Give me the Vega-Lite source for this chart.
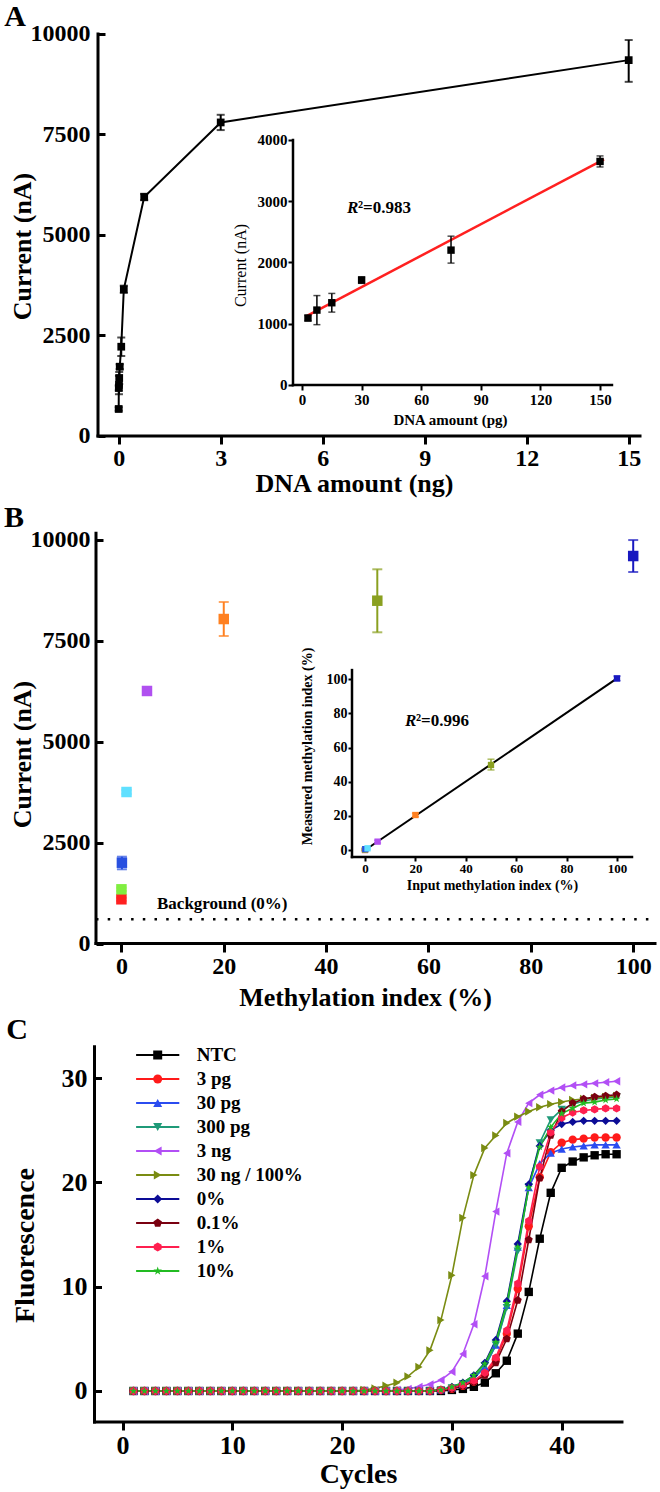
{
"$schema": "https://vega.github.io/schema/vega-lite/v6.json",
"width": 660, "height": 1492,
"autosize": {"type": "fit", "contains": "padding"},
"padding": 0,
"background": "white",
"config": {
  "view": {"stroke": null},
  "font": "Liberation Serif",
  "axis": {"domain": false, "grid": false, "format": "d", "labelFont": "Liberation Serif", "labelFontWeight": "bold", "labelColor": "black", "titleFont": "Liberation Serif", "titleFontWeight": "bold", "titleColor": "black", "tickColor": "black", "labelFlush": false, "labelOverlap": false},
  "legend": {"labelFont": "Liberation Serif", "labelFontWeight": "bold", "labelFontSize": 19, "labelColor": "black"}
},
"datasets": {
  "a": [
    {"x": 0, "y": 672, "lo": 630, "hi": 714},
    {"x": 0.003, "y": 1194, "lo": 1134, "hi": 1254},
    {"x": 0.0075, "y": 1269, "lo": 1039, "hi": 1499},
    {"x": 0.015, "y": 1443, "lo": 1293, "hi": 1593},
    {"x": 0.03, "y": 1724, "lo": 1664, "hi": 1784},
    {"x": 0.075, "y": 2221, "lo": 1990, "hi": 2450},
    {"x": 0.15, "y": 3650, "lo": 3560, "hi": 3740},
    {"x": 0.75, "y": 5945, "lo": 5865, "hi": 6025},
    {"x": 3, "y": 7800, "lo": 7610, "hi": 7990},
    {"x": 15, "y": 9350, "lo": 8810, "hi": 9850}
  ],
  "ai": [
    {"x": 3, "y": 1093, "lo": 1050, "hi": 1136},
    {"x": 7.5, "y": 1223, "lo": 985, "hi": 1460},
    {"x": 15, "y": 1343, "lo": 1190, "hi": 1495},
    {"x": 30, "y": 1713, "lo": 1660, "hi": 1766},
    {"x": 75, "y": 2202, "lo": 1990, "hi": 2430},
    {"x": 150, "y": 3650, "lo": 3560, "hi": 3740}
  ],
  "aifit": [{"x": 2, "y": 1120}, {"x": 152, "y": 3685}],
  "b": [
    {"m": "0%", "x": 0, "y": 1098, "lo": 1060, "hi": 1136},
    {"m": "0.01%", "x": 0.01, "y": 1345, "lo": 1305, "hi": 1385},
    {"m": "0.1%", "x": 0.1, "y": 2004, "lo": 1841, "hi": 2153},
    {"m": "1%", "x": 1, "y": 3756, "lo": 3706, "hi": 3806},
    {"m": "5%", "x": 5, "y": 6259, "lo": 6199, "hi": 6319},
    {"m": "20%", "x": 20, "y": 8042, "lo": 7622, "hi": 8464},
    {"m": "50%", "x": 50, "y": 8496, "lo": 7713, "hi": 9274},
    {"m": "100%", "x": 100, "y": 9603, "lo": 9207, "hi": 9999}
  ],
  "bi": [
    {"m": "0%", "x": 0, "y": 0, "lo": -0.5, "hi": 0.5},
    {"m": "0.01%", "x": 0.01, "y": 0.3, "lo": -0.2, "hi": 0.8},
    {"m": "0.1%", "x": 0.1, "y": 0.5, "lo": 0, "hi": 1},
    {"m": "1%", "x": 1, "y": 1.0, "lo": 0.5, "hi": 1.5},
    {"m": "5%", "x": 5, "y": 4.9, "lo": 4.1, "hi": 5.7},
    {"m": "20%", "x": 20, "y": 20.5, "lo": 19.5, "hi": 21.5},
    {"m": "50%", "x": 50, "y": 49.8, "lo": 46.9, "hi": 53.2},
    {"m": "100%", "x": 100, "y": 100.5, "lo": 99.2, "hi": 101.9}
  ],
  "bifit": [{"x": -0.5, "y": -0.6}, {"x": 100, "y": 100.5}],
  "c": [
    {"s": "NTC", "c": [1,2,3,4,5,6,7,8,9,10,11,12,13,14,15,16,17,18,19,20,21,22,23,24,25,26,27,28,29,30,31,32,33,34,35,36,37,38,39,40,41,42,43,44,45], "f": [0,0,0,0,0,0,0,0,0,0,0,0,0,0,0,0,0,0,0,0,0,0,0,0,0,0,0,0,0,0.1,0.2,0.4,0.8,1.7,2.9,5.5,9.5,14.6,19.0,21.4,22.0,22.4,22.6,22.7,22.7]},
    {"s": "3 pg", "c": [1,2,3,4,5,6,7,8,9,10,11,12,13,14,15,16,17,18,19,20,21,22,23,24,25,26,27,28,29,30,31,32,33,34,35,36,37,38,39,40,41,42,43,44,45], "f": [0,0,0,0,0,0,0,0,0,0,0,0,0,0,0,0,0,0,0,0,0,0,0,0,0,0,0,0,0.1,0.2,0.5,0.9,1.6,3.0,5.5,9.8,15.8,20.5,22.9,23.8,24.1,24.2,24.3,24.3,24.3]},
    {"s": "30 pg", "c": [1,2,3,4,5,6,7,8,9,10,11,12,13,14,15,16,17,18,19,20,21,22,23,24,25,26,27,28,29,30,31,32,33,34,35,36,37,38,39,40,41,42,43,44,45], "f": [0,0,0,0,0,0,0,0,0,0,0,0,0,0,0,0,0,0,0,0,0,0,0,0,0,0,0,0,0.1,0.3,0.6,1.2,2.3,4.4,8.2,13.8,19.5,21.8,22.8,23.2,23.4,23.5,23.6,23.6,23.6]},
    {"s": "300 pg", "c": [1,2,3,4,5,6,7,8,9,10,11,12,13,14,15,16,17,18,19,20,21,22,23,24,25,26,27,28,29,30,31,32,33,34,35,36,37,38,39,40,41,42,43,44,45], "f": [0,0,0,0,0,0,0,0,0,0,0,0,0,0,0,0,0,0,0,0,0,0,0,0,0,0,0,0,0.1,0.3,0.7,1.3,2.4,4.4,8.0,13.4,19.6,23.8,26.0,27.0,27.5,27.8,28.0,28.1,28.2]},
    {"s": "3 ng", "c": [1,2,3,4,5,6,7,8,9,10,11,12,13,14,15,16,17,18,19,20,21,22,23,24,25,26,27,28,29,30,31,32,33,34,35,36,37,38,39,40,41,42,43,44,45], "f": [0,0,0,0,0,0,0,0,0,0,0,0,0,0,0,0,0,0,0,0,0,0,0,0,0.1,0.2,0.4,0.64,1.05,1.85,3.55,6.4,11.0,17.2,22.8,25.8,27.6,28.4,28.8,29.1,29.3,29.4,29.5,29.6,29.7]},
    {"s": "30 ng / 100%", "c": [1,2,3,4,5,6,7,8,9,10,11,12,13,14,15,16,17,18,19,20,21,22,23,24,25,26,27,28,29,30,31,32,33,34,35,36,37,38,39,40,41,42,43,44,45], "f": [0,0,0,0,0,0,0,0,0,0,0,0,0,0,0,0,0,0,0,0,0,0.1,0.25,0.5,0.8,1.4,2.3,3.9,6.8,11.1,16.6,20.7,23.3,24.5,25.7,26.3,26.8,27.2,27.5,27.7,27.9,28.0,28.1,28.2,28.3]},
    {"s": "0%", "c": [1,2,3,4,5,6,7,8,9,10,11,12,13,14,15,16,17,18,19,20,21,22,23,24,25,26,27,28,29,30,31,32,33,34,35,36,37,38,39,40,41,42,43,44,45], "f": [0,0,0,0,0,0,0,0,0,0,0,0,0,0,0,0,0,0,0,0,0,0,0,0,0,0,0,0,0.1,0.4,0.8,1.5,2.7,4.9,8.6,14.1,19.8,23.5,25.0,25.6,25.8,25.9,25.9,25.9,25.9]},
    {"s": "0.1%", "c": [1,2,3,4,5,6,7,8,9,10,11,12,13,14,15,16,17,18,19,20,21,22,23,24,25,26,27,28,29,30,31,32,33,34,35,36,37,38,39,40,41,42,43,44,45], "f": [0,0,0,0,0,0,0,0,0,0,0,0,0,0,0,0,0,0,0,0,0,0,0,0,0,0,0,0,0.1,0.2,0.5,0.9,1.5,2.7,5.0,8.7,14.5,20.4,24.5,26.8,27.6,28.0,28.2,28.3,28.4]},
    {"s": "1%", "c": [1,2,3,4,5,6,7,8,9,10,11,12,13,14,15,16,17,18,19,20,21,22,23,24,25,26,27,28,29,30,31,32,33,34,35,36,37,38,39,40,41,42,43,44,45], "f": [0,0,0,0,0,0,0,0,0,0,0,0,0,0,0,0,0,0,0,0,0,0,0,0,0,0,0,0,0.1,0.3,0.6,1.0,1.75,3.2,5.8,10.3,16.3,21.5,24.8,26.2,26.7,26.9,27.0,27.1,27.1]},
    {"s": "10%", "c": [1,2,3,4,5,6,7,8,9,10,11,12,13,14,15,16,17,18,19,20,21,22,23,24,25,26,27,28,29,30,31,32,33,34,35,36,37,38,39,40,41,42,43,44,45], "f": [0,0,0,0,0,0,0,0,0,0,0,0,0,0,0,0,0,0,0,0,0,0,0,0,0,0,0,0,0.1,0.4,0.8,1.5,2.6,4.7,8.4,13.8,19.5,23.4,25.3,26.6,27.1,27.6,27.7,27.9,28.0]}
  ]
},
"layer": [
  {"data": {"name": "a"}, "mark": {"type": "line", "color": "black", "strokeWidth": 2},
   "encoding": {
     "x": {"field": "x", "type": "quantitative", "scale": {"domain": [-3.49118, 15.92059], "nice": false, "zero": false},
           "axis": {"orient": "bottom", "offset": -1056, "values": [0, 3, 6, 9, 12, 15], "tickSize": 8, "tickWidth": 3, "labelFontSize": 24, "labelPadding": 2, "title": "DNA amount (ng)", "titleFontSize": 26, "titleX": 354, "titleY": 47, "titleBaseline": "middle", "titleAlign": "center"}},
     "y": {"field": "y", "type": "quantitative", "scale": {"domain": [-26268.66, 10845.77], "nice": false, "zero": false},
           "axis": {"orient": "left", "offset": -98, "values": [0, 2500, 5000, 7500, 10000], "tickSize": -7, "tickWidth": 3, "labelFontSize": 24, "labelPadding": 15, "title": "Current (nA)", "titleFontSize": 26, "titleX": -76, "titleY": 246, "titleAngle": 270, "titleBaseline": "middle", "titleAlign": "center"}}}},
  {"data": {"name": "a"}, "mark": {"type": "errorbar", "color": "black", "size": 8, "thickness": 2, "ticks": true},
   "encoding": {
     "x": {"field": "x", "type": "quantitative", "scale": {"domain": [-3.49118, 15.92059], "nice": false, "zero": false}, "axis": null},
     "y": {"field": "lo", "type": "quantitative", "scale": {"domain": [-26268.66, 10845.77], "nice": false, "zero": false}, "axis": null},
     "y2": {"field": "hi"}}},
  {"data": {"name": "a"}, "mark": {"type": "point", "shape": "square", "filled": true, "color": "black", "size": 60, "opacity": 1},
   "encoding": {
     "x": {"field": "x", "type": "quantitative", "scale": {"domain": [-3.49118, 15.92059], "nice": false, "zero": false}, "axis": null},
     "y": {"field": "y", "type": "quantitative", "scale": {"domain": [-26268.66, 10845.77], "nice": false, "zero": false}, "axis": null}}},
  {"data": {"values": [{}]}, "mark": {"type": "rule", "color": "black", "strokeWidth": 3, "strokeCap": "square"},
   "encoding": {
     "x": {"datum": -0.6088, "type": "quantitative", "scale": {"domain": [-3.49118, 15.92059], "nice": false, "zero": false}, "axis": null},
     "y": {"datum": 0, "type": "quantitative", "scale": {"domain": [-26268.66, 10845.77], "nice": false, "zero": false}, "axis": null},
     "y2": {"datum": 10000}}},
  {"data": {"values": [{}]}, "mark": {"type": "rule", "color": "black", "strokeWidth": 3, "strokeCap": "square"},
   "encoding": {
     "x": {"datum": -0.6088, "type": "quantitative", "scale": {"domain": [-3.49118, 15.92059], "nice": false, "zero": false}, "axis": null},
     "x2": {"datum": 15.3324},
     "y": {"datum": 0, "type": "quantitative", "scale": {"domain": [-26268.66, 10845.77], "nice": false, "zero": false}, "axis": null}}},
  {"data": {"values": [{"t": "A"}]}, "mark": {"type": "text", "font": "Liberation Serif", "fontWeight": "bold", "fontSize": 30, "align": "center", "baseline": "middle", "color": "black"},
   "encoding": {
     "x": {"datum": -3.05, "type": "quantitative", "scale": {"domain": [-3.49118, 15.92059], "nice": false, "zero": false}, "axis": null},
     "y": {"datum": 10423, "type": "quantitative", "scale": {"domain": [-26268.66, 10845.77], "nice": false, "zero": false}, "axis": null},
     "text": {"field": "t"}}},

  {"data": {"name": "aifit"}, "mark": {"type": "line", "color": "#ff2020", "strokeWidth": 2.5},
   "encoding": {
     "x": {"field": "x", "type": "quantitative", "scale": {"domain": [-151.988, 180.171], "nice": false, "zero": false},
           "axis": {"orient": "bottom", "offset": -1107, "values": [0, 30, 60, 90, 120, 150], "tickSize": 5, "tickWidth": 2, "labelFontSize": 15, "labelPadding": 2, "title": "DNA amount (pg)", "titleFontSize": 15, "titleX": 450, "titleY": 34, "titleBaseline": "middle", "titleAlign": "center"}},
     "y": {"field": "y", "type": "quantitative", "scale": {"domain": [-18073.47, 6285.71], "nice": false, "zero": false},
           "axis": {"orient": "left", "offset": -293, "values": [0, 1000, 2000, 3000, 4000], "tickSize": 5, "tickWidth": 2, "labelFontSize": 15, "labelPadding": 1, "title": "Current (nA)", "titleFontSize": 16, "titleFontWeight": "normal", "titleX": -53, "titleY": 265, "titleAngle": 270, "titleBaseline": "middle", "titleAlign": "center"}}}},
  {"data": {"name": "ai"}, "mark": {"type": "errorbar", "color": "black", "size": 7, "thickness": 1.5, "ticks": true},
   "encoding": {
     "x": {"field": "x", "type": "quantitative", "scale": {"domain": [-151.988, 180.171], "nice": false, "zero": false}, "axis": null},
     "y": {"field": "lo", "type": "quantitative", "scale": {"domain": [-18073.47, 6285.71], "nice": false, "zero": false}, "axis": null},
     "y2": {"field": "hi"}}},
  {"data": {"name": "ai"}, "mark": {"type": "point", "shape": "square", "filled": true, "color": "black", "size": 55, "opacity": 1},
   "encoding": {
     "x": {"field": "x", "type": "quantitative", "scale": {"domain": [-151.988, 180.171], "nice": false, "zero": false}, "axis": null},
     "y": {"field": "y", "type": "quantitative", "scale": {"domain": [-18073.47, 6285.71], "nice": false, "zero": false}, "axis": null}}},
  {"data": {"values": [{}]}, "mark": {"type": "rule", "color": "black", "strokeWidth": 2.5, "strokeCap": "square"},
   "encoding": {
     "x": {"datum": -4.53, "type": "quantitative", "scale": {"domain": [-151.988, 180.171], "nice": false, "zero": false}, "axis": null},
     "y": {"datum": 0, "type": "quantitative", "scale": {"domain": [-18073.47, 6285.71], "nice": false, "zero": false}, "axis": null},
     "y2": {"datum": 4000}}},
  {"data": {"values": [{}]}, "mark": {"type": "rule", "color": "black", "strokeWidth": 2.5, "strokeCap": "square"},
   "encoding": {
     "x": {"datum": -4.53, "type": "quantitative", "scale": {"domain": [-151.988, 180.171], "nice": false, "zero": false}, "axis": null},
     "x2": {"datum": 156},
     "y": {"datum": 0, "type": "quantitative", "scale": {"domain": [-18073.47, 6285.71], "nice": false, "zero": false}, "axis": null}}},
  {"data": {"values": [{"t": "R"}]}, "mark": {"type": "text", "font": "Liberation Serif", "fontWeight": "bold", "fontStyle": "italic", "fontSize": 17, "align": "left", "baseline": "middle", "color": "black"},
   "encoding": {
     "x": {"datum": 22.65, "type": "quantitative", "scale": {"domain": [-151.988, 180.171], "nice": false, "zero": false}, "axis": null},
     "y": {"datum": 2890, "type": "quantitative", "scale": {"domain": [-18073.47, 6285.71], "nice": false, "zero": false}, "axis": null},
     "text": {"field": "t"}}},
  {"data": {"values": [{"t": "²=0.983"}]}, "mark": {"type": "text", "font": "Liberation Serif", "fontWeight": "bold", "fontSize": 17, "align": "left", "baseline": "middle", "color": "black", "dx": 11},
   "encoding": {
     "x": {"datum": 22.65, "type": "quantitative", "scale": {"domain": [-151.988, 180.171], "nice": false, "zero": false}, "axis": null},
     "y": {"datum": 2890, "type": "quantitative", "scale": {"domain": [-18073.47, 6285.71], "nice": false, "zero": false}, "axis": null},
     "text": {"field": "t"}}},

  {"data": {"values": [{}]}, "mark": {"type": "rule", "color": "black", "strokeWidth": 2.5, "strokeDash": [2.5, 9.2]},
   "encoding": {
     "x": {"datum": -4.963, "type": "quantitative", "scale": {"domain": [-23.7202, 105.2364], "nice": false, "zero": false}, "axis": null},
     "x2": {"datum": 104.26},
     "y": {"datum": 602, "type": "quantitative", "scale": {"domain": [-13587.71, 23379.58], "nice": false, "zero": false}, "axis": null}}},
  {"data": {"name": "b"}, "mark": {"type": "errorbar", "size": 10, "thickness": 2, "ticks": true},
   "encoding": {
     "x": {"field": "x", "type": "quantitative", "scale": {"domain": [-23.7202, 105.2364], "nice": false, "zero": false}, "axis": null},
     "y": {"field": "lo", "type": "quantitative", "scale": {"domain": [-13587.71, 23379.58], "nice": false, "zero": false}, "axis": null},
     "y2": {"field": "hi"},
     "color": {"field": "m", "type": "nominal", "scale": {"domain": ["0%", "0.01%", "0.1%", "1%", "5%", "20%", "50%", "100%"], "range": ["#ff2020", "#80ee40", "#2850e0", "#60e0ff", "#b050f0", "#ff8020", "#8aa020", "#1818c0"]}, "legend": null}}},
  {"data": {"name": "b"}, "mark": {"type": "point", "shape": "square", "filled": true, "size": 110, "opacity": 1},
   "encoding": {
     "x": {"field": "x", "type": "quantitative", "scale": {"domain": [-23.7202, 105.2364], "nice": false, "zero": false},
           "axis": {"orient": "bottom", "offset": -548, "values": [0, 20, 40, 60, 80, 100], "tickSize": 8, "tickWidth": 3, "labelFontSize": 24, "labelPadding": 2, "title": "Methylation index (%)", "titleFontSize": 26, "titleX": 365, "titleY": 53, "titleBaseline": "middle", "titleAlign": "center"}},
     "y": {"field": "y", "type": "quantitative", "scale": {"domain": [-13587.71, 23379.58], "nice": false, "zero": false},
           "axis": {"orient": "left", "offset": -96, "values": [0, 2500, 5000, 7500, 10000], "tickSize": -7, "tickWidth": 3, "labelFontSize": 24, "labelPadding": 13, "title": "Current (nA)", "titleFontSize": 26, "titleX": -74, "titleY": 754, "titleAngle": 270, "titleBaseline": "middle", "titleAlign": "center"}},
     "color": {"field": "m", "type": "nominal", "scale": {"domain": ["0%", "0.01%", "0.1%", "1%", "5%", "20%", "50%", "100%"], "range": ["#ff2020", "#80ee40", "#2850e0", "#60e0ff", "#b050f0", "#ff8020", "#8aa020", "#1818c0"]}, "legend": null}}},
  {"data": {"values": [{}]}, "mark": {"type": "rule", "color": "black", "strokeWidth": 3, "strokeCap": "square"},
   "encoding": {
     "x": {"datum": -4.963, "type": "quantitative", "scale": {"domain": [-23.7202, 105.2364], "nice": false, "zero": false}, "axis": null},
     "y": {"datum": 0, "type": "quantitative", "scale": {"domain": [-13587.71, 23379.58], "nice": false, "zero": false}, "axis": null},
     "y2": {"datum": 10170}}},
  {"data": {"values": [{}]}, "mark": {"type": "rule", "color": "black", "strokeWidth": 3, "strokeCap": "square"},
   "encoding": {
     "x": {"datum": -4.963, "type": "quantitative", "scale": {"domain": [-23.7202, 105.2364], "nice": false, "zero": false}, "axis": null},
     "x2": {"datum": 104.26},
     "y": {"datum": 0, "type": "quantitative", "scale": {"domain": [-13587.71, 23379.58], "nice": false, "zero": false}, "axis": null}}},
  {"data": {"values": [{"t": "Background (0%)"}]}, "mark": {"type": "text", "font": "Liberation Serif", "fontWeight": "bold", "fontSize": 17, "align": "left", "baseline": "middle", "color": "black"},
   "encoding": {
     "x": {"datum": 6.96, "type": "quantitative", "scale": {"domain": [-23.7202, 105.2364], "nice": false, "zero": false}, "axis": null},
     "y": {"datum": 981, "type": "quantitative", "scale": {"domain": [-13587.71, 23379.58], "nice": false, "zero": false}, "axis": null},
     "text": {"field": "t"}}},
  {"data": {"values": [{"t": "B"}]}, "mark": {"type": "text", "font": "Liberation Serif", "fontWeight": "bold", "fontSize": 30, "align": "center", "baseline": "middle", "color": "black"},
   "encoding": {
     "x": {"datum": -20.98, "type": "quantitative", "scale": {"domain": [-23.7202, 105.2364], "nice": false, "zero": false}, "axis": null},
     "y": {"datum": 10545, "type": "quantitative", "scale": {"domain": [-13587.71, 23379.58], "nice": false, "zero": false}, "axis": null},
     "text": {"field": "t"}}},

  {"data": {"name": "bifit"}, "mark": {"type": "line", "color": "black", "strokeWidth": 2},
   "encoding": {
     "x": {"field": "x", "type": "quantitative", "scale": {"domain": [-144.841, 117.063], "nice": false, "zero": false},
           "axis": {"orient": "bottom", "offset": -635, "values": [0, 20, 40, 60, 80, 100], "tickSize": 4, "tickWidth": 2, "labelFontSize": 13, "labelPadding": 1, "title": "Input methylation index (%)", "titleFontSize": 14, "titleX": 492, "titleY": 28, "titleBaseline": "middle", "titleAlign": "center"}},
     "y": {"field": "y", "type": "quantitative", "scale": {"domain": [-376.098, 497.95], "nice": false, "zero": false},
           "axis": {"orient": "left", "offset": -352, "values": [0, 20, 40, 60, 80, 100], "tickSize": 4, "tickWidth": 2, "labelFontSize": 14, "labelPadding": 1, "title": "Measured methylation index (%)", "titleFontSize": 14, "titleX": -45, "titleY": 746, "titleAngle": 270, "titleBaseline": "middle", "titleAlign": "center"}}}},
  {"data": {"name": "bi"}, "mark": {"type": "errorbar", "size": 7, "thickness": 1.5, "ticks": true},
   "encoding": {
     "x": {"field": "x", "type": "quantitative", "scale": {"domain": [-144.841, 117.063], "nice": false, "zero": false}, "axis": null},
     "y": {"field": "lo", "type": "quantitative", "scale": {"domain": [-376.098, 497.95], "nice": false, "zero": false}, "axis": null},
     "y2": {"field": "hi"},
     "color": {"field": "m", "type": "nominal", "scale": {"domain": ["0%", "0.01%", "0.1%", "1%", "5%", "20%", "50%", "100%"], "range": ["#ff2020", "#80ee40", "#2850e0", "#60e0ff", "#b050f0", "#ff8020", "#8aa020", "#1818c0"]}, "legend": null}}},
  {"data": {"name": "bi"}, "mark": {"type": "point", "shape": "square", "filled": true, "size": 40, "opacity": 1},
   "encoding": {
     "x": {"field": "x", "type": "quantitative", "scale": {"domain": [-144.841, 117.063], "nice": false, "zero": false}, "axis": null},
     "y": {"field": "y", "type": "quantitative", "scale": {"domain": [-376.098, 497.95], "nice": false, "zero": false}, "axis": null},
     "color": {"field": "m", "type": "nominal", "scale": {"domain": ["0%", "0.01%", "0.1%", "1%", "5%", "20%", "50%", "100%"], "range": ["#ff2020", "#80ee40", "#2850e0", "#60e0ff", "#b050f0", "#ff8020", "#8aa020", "#1818c0"]}, "legend": null}}},
  {"data": {"values": [{}]}, "mark": {"type": "rule", "color": "black", "strokeWidth": 2.5, "strokeCap": "square"},
   "encoding": {
     "x": {"datum": -5.159, "type": "quantitative", "scale": {"domain": [-144.841, 117.063], "nice": false, "zero": false}, "axis": null},
     "y": {"datum": -4.1, "type": "quantitative", "scale": {"domain": [-376.098, 497.95], "nice": false, "zero": false}, "axis": null},
     "y2": {"datum": 105.4}}},
  {"data": {"values": [{}]}, "mark": {"type": "rule", "color": "black", "strokeWidth": 2.5, "strokeCap": "square"},
   "encoding": {
     "x": {"datum": -5.159, "type": "quantitative", "scale": {"domain": [-144.841, 117.063], "nice": false, "zero": false}, "axis": null},
     "x2": {"datum": 105.95},
     "y": {"datum": -4.1, "type": "quantitative", "scale": {"domain": [-376.098, 497.95], "nice": false, "zero": false}, "axis": null}}},
  {"data": {"values": [{"t": "R"}]}, "mark": {"type": "text", "font": "Liberation Serif", "fontWeight": "bold", "fontStyle": "italic", "fontSize": 17, "align": "left", "baseline": "middle", "color": "black"},
   "encoding": {
     "x": {"datum": 15.87, "type": "quantitative", "scale": {"domain": [-144.841, 117.063], "nice": false, "zero": false}, "axis": null},
     "y": {"datum": 75.6, "type": "quantitative", "scale": {"domain": [-376.098, 497.95], "nice": false, "zero": false}, "axis": null},
     "text": {"field": "t"}}},
  {"data": {"values": [{"t": "²=0.996"}]}, "mark": {"type": "text", "font": "Liberation Serif", "fontWeight": "bold", "fontSize": 17, "align": "left", "baseline": "middle", "color": "black", "dx": 11},
   "encoding": {
     "x": {"datum": 15.87, "type": "quantitative", "scale": {"domain": [-144.841, 117.063], "nice": false, "zero": false}, "axis": null},
     "y": {"datum": 75.6, "type": "quantitative", "scale": {"domain": [-376.098, 497.95], "nice": false, "zero": false}, "axis": null},
     "text": {"field": "t"}}},

  {"data": {"name": "c"}, "transform": [{"flatten": ["c", "f"]}], "mark": {"type": "line", "strokeWidth": 1.6},
   "encoding": {
     "x": {"field": "c", "type": "quantitative", "scale": {"domain": [-11.157, 48.953], "nice": false, "zero": false},
           "axis": {"orient": "bottom", "offset": -70, "values": [0, 10, 20, 30, 40], "tickSize": 8, "tickWidth": 3, "labelFontSize": 26, "labelPadding": 2, "title": "Cycles", "titleFontSize": 28, "titleX": 358, "titleY": 52, "titleBaseline": "middle", "titleAlign": "center"}},
     "y": {"field": "f", "type": "quantitative", "scale": {"domain": [-9.684, 133.365], "nice": false, "zero": false},
           "axis": {"orient": "left", "offset": -94.5, "values": [0, 10, 20, 30], "tickSize": -7, "tickWidth": 3, "labelFontSize": 26, "labelPadding": 14.5, "title": "Fluorescence", "titleFontSize": 28, "titleX": -69.5, "titleY": 1245, "titleAngle": 270, "titleBaseline": "middle", "titleAlign": "center"}},
     "stroke": {"field": "s", "type": "nominal",
       "scale": {"domain": ["NTC", "3 pg", "30 pg", "300 pg", "3 ng", "30 ng / 100%", "0%", "0.1%", "1%", "10%"], "range": ["#000000", "#ff1a1a", "#2b4cf0", "#1f9a78", "#b24ff5", "#7a8c12", "#0c0c96", "#7a0010", "#ff1f4f", "#22bb22"]},
       "legend": {"orient": "none", "legendX": 148.2, "legendY": 1045.5, "title": null, "padding": 0, "labelOpacity": 0, "labelOffset": 29.5, "labelLimit": 300, "symbolType": "M-4.8,0H4.8", "symbolSize": 81, "symbolStrokeWidth": 2, "rowPadding": 4}}}},
  {"data": {"name": "c"}, "transform": [{"flatten": ["c", "f"]}], "mark": {"type": "point", "filled": true, "size": 70, "opacity": 1, "strokeWidth": 0},
   "encoding": {
     "x": {"field": "c", "type": "quantitative", "scale": {"domain": [-11.157, 48.953], "nice": false, "zero": false}, "axis": null},
     "y": {"field": "f", "type": "quantitative", "scale": {"domain": [-9.684, 133.365], "nice": false, "zero": false}, "axis": null},
     "fill": {"field": "s", "type": "nominal", "sort": null, "scale": {"range": ["#000000", "#ff1a1a", "#2b4cf0", "#1f9a78", "#b24ff5", "#7a8c12", "#0c0c96", "#7a0010", "#ff1f4f", "#22bb22"]},
       "legend": {"orient": "none", "legendX": 148.2, "legendY": 1045.5, "title": null, "padding": 0, "labelOffset": 29.5, "labelLimit": 300, "symbolSize": 81, "symbolStrokeWidth": 0, "rowPadding": 4}},
     "shape": {"field": "s", "type": "nominal", "sort": null, "scale": {"range": ["square", "circle", "triangle-up", "triangle-down", "triangle-left", "triangle-right", "diamond", "M0,-1L0.951,-0.309L0.588,0.809L-0.588,0.809L-0.951,-0.309Z", "M0,-1L0.866,-0.5L0.866,0.5L0,1L-0.866,0.5L-0.866,-0.5Z", "M0,-1L0.224,-0.309L0.951,-0.309L0.363,0.118L0.588,0.809L0,0.382L-0.588,0.809L-0.363,0.118L-0.951,-0.309L-0.224,-0.309Z"]},
       "legend": {"orient": "none", "legendX": 148.2, "legendY": 1045.5, "title": null, "padding": 0, "labelOffset": 29.5, "labelLimit": 300, "symbolSize": 81, "symbolStrokeWidth": 0, "rowPadding": 4}}}},
  {"data": {"values": [{}]}, "mark": {"type": "rule", "color": "black", "strokeWidth": 3, "strokeCap": "square"},
   "encoding": {
     "x": {"datum": -2.55, "type": "quantitative", "scale": {"domain": [-11.157, 48.953], "nice": false, "zero": false}, "axis": null},
     "y": {"datum": -2.972, "type": "quantitative", "scale": {"domain": [-9.684, 133.365], "nice": false, "zero": false}, "axis": null},
     "y2": {"datum": 33}}},
  {"data": {"values": [{}]}, "mark": {"type": "rule", "color": "black", "strokeWidth": 3, "strokeCap": "square"},
   "encoding": {
     "x": {"datum": -2.55, "type": "quantitative", "scale": {"domain": [-11.157, 48.953], "nice": false, "zero": false}, "axis": null},
     "x2": {"datum": 45.49},
     "y": {"datum": -2.972, "type": "quantitative", "scale": {"domain": [-9.684, 133.365], "nice": false, "zero": false}, "axis": null}}},
  {"data": {"values": [{"t": "C"}]}, "mark": {"type": "text", "font": "Liberation Serif", "fontWeight": "bold", "fontSize": 30, "align": "center", "baseline": "middle", "color": "black"},
   "encoding": {
     "x": {"datum": -9.61, "type": "quantitative", "scale": {"domain": [-11.157, 48.953], "nice": false, "zero": false}, "axis": null},
     "y": {"datum": 34.6, "type": "quantitative", "scale": {"domain": [-9.684, 133.365], "nice": false, "zero": false}, "axis": null},
     "text": {"field": "t"}}}
],
"resolve": {"scale": {"x": "independent", "y": "independent"}, "axis": {"x": "independent", "y": "independent"}}
}
